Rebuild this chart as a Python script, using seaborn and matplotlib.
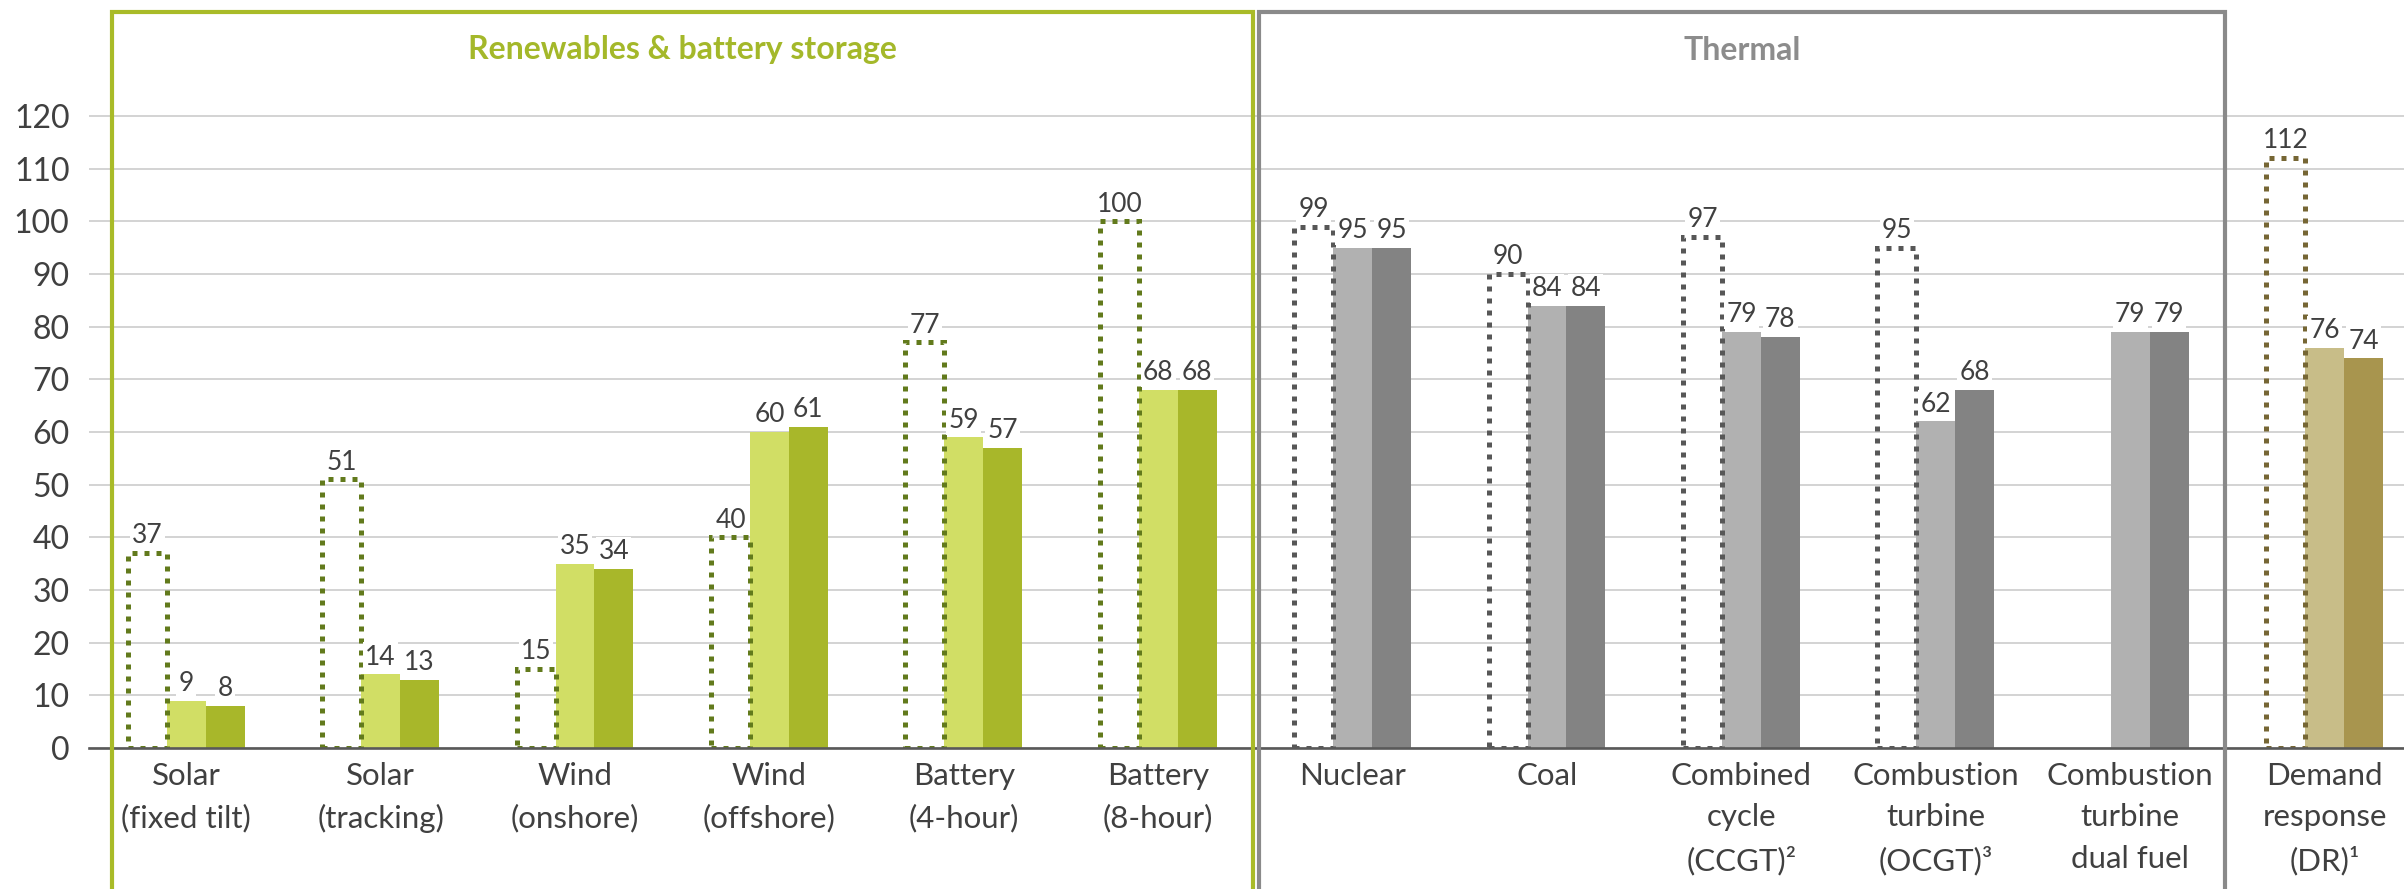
import numpy as np
import pandas as pd
import matplotlib
matplotlib.use("Agg")
import matplotlib.pyplot as plt
import seaborn as sns
from matplotlib.lines import Line2D

# ---- data -------------------------------------------------------------
categories = [
    "Solar\n(fixed tilt)", "Solar\n(tracking)", "Wind\n(onshore)", "Wind\n(offshore)",
    "Battery\n(4-hour)", "Battery\n(8-hour)", "Nuclear", "Coal",
    "Combined\ncycle\n(CCGT)²", "Combustion\nturbine\n(OCGT)³",
    "Combustion\nturbine\ndual fuel", "Demand\nresponse\n(DR)¹",
]
category_group = ["renew"] * 6 + ["thermal"] * 5 + ["dr"]
series_names = ["Series 1", "Series 2", "Series 3"]
series1_vals = [37, 51, 15, 40, 77, 100, 99, 90, 97, 95, np.nan, 112]
series2_vals = [9, 14, 35, 60, 59, 68, 95, 84, 79, 62, 79, 76]
series3_vals = [8, 13, 34, 61, 57, 68, 95, 84, 78, 68, 79, 74]
y_ticks = list(range(0, 121, 10))
section_titles = ["Renewables & battery storage", "Thermal"]

# ---- styling ----------------------------------------------------------
palettes = {
    "renew":   ("#627a1c", "#d1de65", "#a8b72a"),
    "thermal": ("#575757", "#b1b1b1", "#838383"),
    "dr":      ("#766634", "#c8bd88", "#a8954e"),
}
TEXT = "#404040"

sns.set_theme(style="white")
plt.rcParams["font.family"] = ["Lato", "DejaVu Sans"]

W, H = 2404, 889
fig = plt.figure(figsize=(W / 100, H / 100), dpi=100)

# axes geometry (pixels)
x_left, y_zero, px_per_unit, cat_w = 89, 748, 5.267, 194.4
ymax = 130
ax = fig.add_axes([x_left / W, (H - y_zero) / H, (W - x_left) / W, ymax * px_per_unit / H])

rows = []
for s, vals in zip(series_names, [series1_vals, series2_vals, series3_vals]):
    for c, v in zip(categories, vals):
        rows.append({"category": c, "series": s, "value": v})
df = pd.DataFrame(rows).dropna()

sns.barplot(data=df, x="category", y="value", hue="series", order=categories,
            hue_order=series_names, width=0.6, gap=0, legend=False,
            errorbar=None, ax=ax, saturation=1)

for p in ax.patches:
    cx = p.get_x() + p.get_width() / 2
    idx = int(round(cx))
    s_idx = int(round((cx - idx) / 0.2)) + 1
    cols = palettes[category_group[idx]]
    val = p.get_height()
    if s_idx == 0:
        p.set_facecolor("none")
        p.set_edgecolor(cols[0])
        p.set_linewidth(3.6)
        p.set_linestyle((0, (1, 1.4)))
        p.set_capstyle("butt")
        p.set_zorder(4)
    else:
        p.set_facecolor(cols[s_idx])
        p.set_edgecolor("none")
        p.set_linewidth(0)
        p.set_zorder(3)
    ax.annotate(f"{val:.0f}", (cx, val), xytext=(0, 7), textcoords="offset points",
                ha="center", va="baseline", fontsize=19, color=TEXT, zorder=6,
                bbox=dict(boxstyle="square,pad=0.08", fc="white", ec="none"))

ax.set_xlim(-0.5, -0.5 + (W - x_left) / cat_w)
ax.set_ylim(0, ymax)
ax.set_yticks(y_ticks)
ax.set_yticklabels([str(t) for t in y_ticks], fontsize=23, color=TEXT)
ax.set_xticks(range(len(categories)))
ax.set_xticklabels(categories, fontsize=22.5, color=TEXT, linespacing=1.58)
ax.tick_params(axis="both", length=0)
ax.tick_params(axis="y", pad=14)
ax.tick_params(axis="x", pad=10)
ax.set_xlabel("")
ax.set_ylabel("")
ax.yaxis.grid(True, color="#c8c8c8", linewidth=1.1)
ax.xaxis.grid(False)
ax.set_axisbelow(True)
for side in ["left", "right", "top"]:
    ax.spines[side].set_visible(False)
ax.spines["bottom"].set_color("#595959")
ax.spines["bottom"].set_linewidth(1.9)
ax.spines["bottom"].set_zorder(5)


# ---- section frames and titles (figure pixels) -------------------------
def fx(x):
    return x / W


def fy(y):
    return 1 - y / H


frames = [(112, 1253, "#a9bb28"), (1259, 2225, "#8a8a8a")]
title_colors = ["#a4b82a", "#8c8c8c"]
top = 12
for (x0, x1, col), title, tcol in zip(frames, section_titles, title_colors):
    fig.add_artist(Line2D([fx(x0), fx(x0), fx(x1), fx(x1)],
                          [fy(H + 5), fy(top), fy(top), fy(H + 5)],
                          color=col, linewidth=3, solid_joinstyle="miter", zorder=10))
    fig.text(fx((x0 + x1) / 2), fy(50), title, ha="center", va="center",
             fontsize=23, fontweight="bold", color=tcol)

fig.savefig("out.png", dpi=100)
